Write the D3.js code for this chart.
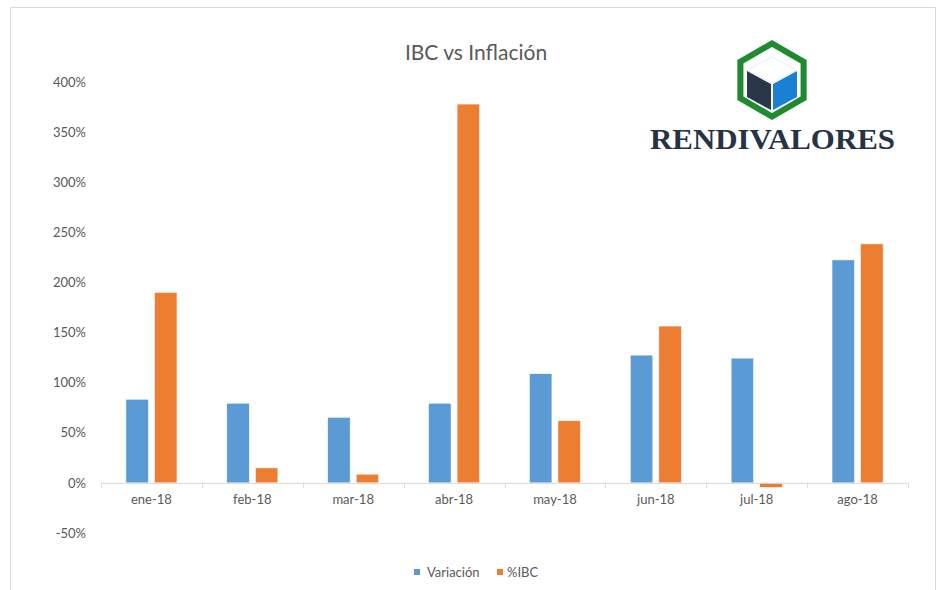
<!DOCTYPE html>
<html lang="es">
<head>
<meta charset="utf-8">
<title>IBC vs Inflación</title>
<script src="https://cdn.jsdelivr.net/npm/d3@7"></script>
<style>
  body { margin: 0; background: #fff; }
  svg { display: block; font-family: Lato, "Open Sans", sans-serif; }
  .tick text { fill: #595959; font-size: 13px; font-family: Lato, "Open Sans", sans-serif; }
</style>
</head>
<body>
<div id="chart"></div>
<script>
// data
var months = ["ene-18", "feb-18", "mar-18", "abr-18", "may-18", "jun-18", "jul-18", "ago-18"];
var variacion = [83.5, 79.5, 65.5, 79.5, 109, 127.5, 124.5, 222.5];
var ibc = [190, 15, 8.7, 378, 62, 156.5, -4.5, 238.5];
var seriesNames = ["Variación", "%IBC"];
var seriesColors = ["#5b9bd5", "#ed7d31"];
var yTicks = [-50, 0, 50, 100, 150, 200, 250, 300, 350, 400];

var width = 942, height = 590;
var plotLeft = 101, plotRight = 908, plotTop = 82, plotBottom = 533;

var svg = d3.select("#chart").append("svg")
    .attr("width", width)
    .attr("height", height);

// chart frame (bottom edge is cut off)
svg.append("path")
    .attr("d", "M10.5,590 V7.5 H935.5 V590")
    .attr("fill", "none")
    .attr("stroke", "#d9d9d9")
    .attr("stroke-width", 1);

var x = d3.scaleBand().domain(months).range([plotLeft, plotRight]);
var xs = d3.scaleBand().domain([0, 1]).range([0, x.bandwidth()])
    .paddingInner(0.21).paddingOuter(0.87);
var y = d3.scaleLinear().domain([-50, 400]).range([plotBottom, plotTop]);

// y labels (no gridlines)
var yAxis = svg.append("g")
    .attr("transform", "translate(" + (plotLeft - 15) + ",0)")
    .call(d3.axisLeft(y).tickValues(yTicks).tickSize(0).tickPadding(0).tickFormat(function(d) { return d + "%"; }));
yAxis.select(".domain").remove();

// bars
var rows = months.map(function(m, i) { return { m: m, vals: [variacion[i], ibc[i]] }; });
var groups = svg.append("g").selectAll("g")
    .data(rows).enter().append("g")
    .attr("transform", function(d) { return "translate(" + x(d.m) + ",0)"; });

groups.selectAll("rect")
    .data(function(d) { return d.vals.map(function(v, k) { return { k: k, v: v }; }); })
    .enter().append("rect")
    .attr("x", function(d) { return xs(d.k); })
    .attr("width", xs.bandwidth())
    .attr("y", function(d) { return y(Math.max(0, d.v)); })
    .attr("height", function(d) { return Math.abs(y(d.v) - y(0)); })
    .attr("fill", function(d) { return seriesColors[d.k]; })
    .attr("stroke", "#fff")
    .attr("stroke-width", 0.6);

// category axis at 0%
var xAxis = svg.append("g")
    .attr("transform", "translate(0," + y(0) + ")")
    .call(d3.axisBottom(x).tickSize(0).tickPadding(12));
xAxis.select(".domain").attr("stroke", "#d9d9d9");
var tickPos = months.map(function(m) { return x(m); }).concat([plotRight]);
xAxis.selectAll("line.sep")
    .data(tickPos).enter().append("line")
    .attr("class", "sep")
    .attr("x1", function(d) { return Math.round(d) + 0.5; })
    .attr("x2", function(d) { return Math.round(d) + 0.5; })
    .attr("y1", 0).attr("y2", 5)
    .attr("stroke", "#d9d9d9");

// title
svg.append("text")
    .attr("x", 476).attr("y", 60)
    .attr("text-anchor", "middle")
    .attr("fill", "#595959")
    .style("font-size", "21px")
    .text("IBC vs Inflación");

// legend
var legend = svg.append("g").selectAll("g")
    .data(seriesNames).enter().append("g")
    .attr("transform", function(d, i) { return "translate(" + (414 + i * 83) + ",569)"; });
legend.append("rect").attr("width", 6).attr("height", 6)
    .attr("fill", function(d, i) { return seriesColors[i]; });
legend.append("text")
    .attr("x", function(d, i) { return i == 0 ? 13 : 10; }).attr("y", 8)
    .attr("fill", "#595959")
    .style("font-size", "13px")
    .text(function(d) { return d; });

// logo
var logo = svg.append("g");
var cx = 772, cy = 80;
function hex(r) {
    return d3.range(6).map(function(i) {
        var a = Math.PI / 3 * i - Math.PI / 2;
        return [cx + r * Math.cos(a), cy + r * Math.sin(a)];
    });
}
var line = d3.line().curve(d3.curveLinearClosed);
logo.append("path").attr("d", line(hex(40))).attr("fill", "#1f8a30");
logo.append("path").attr("d", line(hex(33))).attr("fill", "#fff");
logo.append("path").attr("d", line([[772, 57], [797, 70], [772, 83], [747, 70]])).attr("fill", "#fff")
    .attr("stroke", "#e6e9ee").attr("stroke-width", 0.8);
logo.append("path").attr("d", line([[747, 71], [771, 84], [771, 110], [747, 97]])).attr("fill", "#2a3649");
logo.append("path").attr("d", line([[797, 71], [773, 84], [773, 110], [797, 97]])).attr("fill", "#1a80d2");

logo.append("text")
    .attr("x", 650).attr("y", 149)
    .attr("textLength", 245)
    .attr("lengthAdjust", "spacingAndGlyphs")
    .attr("fill", "#263246")
    .style("font-family", "'Liberation Serif', 'DejaVu Serif', serif")
    .style("font-weight", "bold")
    .style("font-size", "29px")
    .text("RENDIVALORES");
</script>
</body>
</html>
